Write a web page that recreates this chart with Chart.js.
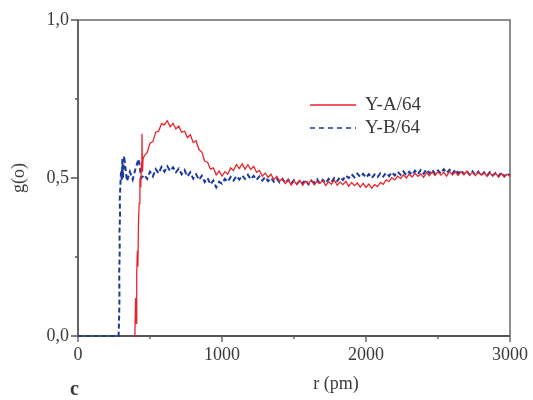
<!DOCTYPE html>
<html>
<head>
<meta charset="utf-8">
<script src="https://cdn.jsdelivr.net/npm/chart.js@4.4.1/dist/chart.umd.min.js"></script>
<style>
html,body{margin:0;padding:0;background:#fff;}
#wrap{width:533px;height:400px;position:relative;}
</style>
</head>
<body>
<div id="wrap"><canvas id="c" width="533" height="400"></canvas></div>
<script>
// ---- data ----
const seriesNames = ["Y-A/64", "Y-B/64"];
const xTickLabels = ["0", "1000", "2000", "3000"];
const xTickValues = [0, 1000, 2000, 3000];
const xMinorValues = [500, 1500, 2500];
const yTickLabels = ["0,0", "0,5", "1,0"];
const yTickValues = [0, 0.5, 1.0];
const yMinorValues = [0.25, 0.75];

// Y-A/64 onset (explicit r, g); g = 0 below r = 385 (lies on the axis)
const onsetA_r = [385, 395, 400, 404, 408, 412, 416, 420, 425, 430, 436, 440, 444, 448, 452];
const onsetA_g = [0, 0, 0.12, 0.04, 0.20, 0.27, 0.22, 0.36, 0.42, 0.50, 0.47, 0.55, 0.64, 0.52, 0.56];
// Y-A/64 main part, r = 460, 480, ... (20 pm grid)
const mainA_start = 460, mainA_step = 20;
const mainA_g = [
0.57,0.58,0.61,0.615,0.645,0.648,0.672,0.668,0.681,0.662,0.673,0.655,0.664,0.645,0.648,0.628,0.637,0.612,0.618,0.59,
0.582,0.553,0.55,0.528,0.532,0.51,0.522,0.506,0.52,0.512,0.532,0.524,0.543,0.53,0.545,0.528,0.542,0.527,0.537,0.518,
0.524,0.506,0.516,0.502,0.512,0.495,0.505,0.49,0.498,0.482,0.494,0.478,0.491,0.48,0.493,0.477,0.49,0.481,0.494,0.478,
0.489,0.483,0.492,0.476,0.488,0.48,0.493,0.477,0.487,0.479,0.49,0.474,0.486,0.476,0.484,0.471,0.483,0.47,0.481,0.468,
0.479,0.473,0.486,0.48,0.494,0.489,0.501,0.494,0.506,0.498,0.51,0.5,0.512,0.503,0.515,0.505,0.513,0.502,0.517,0.507,
0.519,0.508,0.52,0.509,0.518,0.506,0.521,0.51,0.519,0.508,0.52,0.511,0.522,0.51,0.518,0.507,0.519,0.509,0.517,0.505,
0.516,0.507,0.515,0.503,0.514,0.504,0.512,0.506];

// Y-B/64 onset
const onsetB_r = [0, 282, 285, 288, 286, 290, 288, 292, 290, 294, 296, 300, 304, 308, 312];
const onsetB_g = [0, 0, 0.05, 0.12, 0.20, 0.27, 0.33, 0.38, 0.43, 0.47, 0.50, 0.52, 0.49, 0.56, 0.50];
// Y-B/64 main part, r = 320, 340, ...
const mainB_start = 320, mainB_step = 20;
const mainB_g = [
0.57,0.49,0.52,0.495,0.53,0.56,0.5,0.51,0.497,0.52,0.505,0.528,0.515,0.535,0.52,0.537,0.522,0.534,0.518,0.53,
0.512,0.525,0.505,0.518,0.498,0.512,0.494,0.507,0.487,0.5,0.48,0.492,0.47,0.488,0.482,0.497,0.488,0.503,0.492,0.506,
0.495,0.508,0.497,0.51,0.496,0.507,0.494,0.505,0.492,0.503,0.49,0.5,0.488,0.498,0.486,0.497,0.484,0.495,0.482,0.493,
0.481,0.492,0.483,0.494,0.48,0.491,0.485,0.496,0.482,0.494,0.484,0.497,0.487,0.5,0.49,0.503,0.494,0.508,0.5,0.512,
0.502,0.514,0.503,0.513,0.501,0.512,0.5,0.511,0.503,0.515,0.505,0.516,0.506,0.518,0.508,0.52,0.51,0.521,0.509,0.52,
0.51,0.523,0.512,0.525,0.514,0.527,0.515,0.526,0.513,0.524,0.514,0.528,0.516,0.526,0.513,0.527,0.515,0.524,0.512,0.522,
0.51,0.521,0.509,0.52,0.508,0.518,0.507,0.519,0.508,0.516,0.506,0.517,0.505,0.515,0.508];

function buildPoints(onR, onG, start, step, g) {
  const pts = onR.map((r, i) => ({x: r, y: onG[i]}));
  g.forEach((v, i) => pts.push({x: start + step * i, y: v}));
  return pts;
}
const ptsA = buildPoints(onsetA_r, onsetA_g, mainA_start, mainA_step, mainA_g);
const ptsB = buildPoints(onsetB_r, onsetB_g, mainB_start, mainB_step, mainB_g);

const RED = '#e8252b';
const BLUE = '#1c3a9e';
const FONT = '"Liberation Serif", "Times New Roman", serif';
const TXT = '#3a3a3a';

const decor = {
  id: 'decor',
  beforeDatasetsDraw(chart) {
    const ctx = chart.ctx;
    const xs = chart.scales.x, ys = chart.scales.y;
    const L = xs.left, R = xs.right, T = ys.top, B = ys.bottom;
    ctx.save();
    ctx.strokeStyle = '#6a6a6a';
    ctx.lineWidth = 1.5;
    ctx.beginPath();
    ctx.moveTo(L, T); ctx.lineTo(R, T); ctx.lineTo(R, B);
    ctx.stroke();
    ctx.strokeStyle = '#555';
    ctx.lineWidth = 1.8;
    ctx.beginPath();
    ctx.moveTo(L, T); ctx.lineTo(L, B); ctx.lineTo(R, B);
    ctx.stroke();
    ctx.lineWidth = 1.3;
    ctx.beginPath();
    yTickValues.forEach(v => { const y = ys.getPixelForValue(v); ctx.moveTo(L - 7, y); ctx.lineTo(L, y); });
    yMinorValues.forEach(v => { const y = ys.getPixelForValue(v); ctx.moveTo(L - 3, y); ctx.lineTo(L, y); });
    xTickValues.forEach(v => { const x = xs.getPixelForValue(v); ctx.moveTo(x, B); ctx.lineTo(x, B + 6); });
    xMinorValues.forEach(v => { const x = xs.getPixelForValue(v); ctx.moveTo(x, B); ctx.lineTo(x, B + 3); });
    ctx.stroke();
    ctx.restore();
  },
  afterDraw(chart) {
    const ctx = chart.ctx;
    const xs = chart.scales.x, ys = chart.scales.y;
    const L = xs.left, B = ys.bottom;
    ctx.save();
    ctx.fillStyle = TXT;
    ctx.font = '18px ' + FONT;
    ctx.textAlign = 'right'; ctx.textBaseline = 'middle';
    yTickValues.forEach((v, i) => ctx.fillText(yTickLabels[i], L - 9, ys.getPixelForValue(v)));
    ctx.textAlign = 'center'; ctx.textBaseline = 'top';
    xTickValues.forEach((v, i) => ctx.fillText(xTickLabels[i], xs.getPixelForValue(v), B + 10));
    ctx.textBaseline = 'middle';
    ctx.fillText('r (pm)', 336, 384);
    ctx.save();
    ctx.translate(19, 178);
    ctx.rotate(-Math.PI / 2);
    ctx.fillText('g(o)', 0, 0);
    ctx.restore();
    ctx.font = 'bold 20px ' + FONT;
    ctx.textAlign = 'left';
    ctx.fillText('c', 70, 390);
    // legend
    ctx.font = '19px ' + FONT;
    ctx.textAlign = 'left'; ctx.textBaseline = 'middle';
    ctx.strokeStyle = RED; ctx.lineWidth = 1.4; ctx.setLineDash([]);
    ctx.beginPath(); ctx.moveTo(310, 105); ctx.lineTo(356, 105); ctx.stroke();
    ctx.fillStyle = TXT;
    ctx.fillText(seriesNames[0], 365, 105);
    ctx.strokeStyle = BLUE; ctx.lineWidth = 1.6; ctx.setLineDash([5, 4]);
    ctx.beginPath(); ctx.moveTo(310, 128); ctx.lineTo(356, 128); ctx.stroke();
    ctx.setLineDash([]);
    ctx.fillText(seriesNames[1], 365, 128);
    ctx.restore();
  }
};

new Chart(document.getElementById('c'), {
  type: 'line',
  data: {
    datasets: [
      {label: seriesNames[0], data: ptsA, borderColor: RED, borderWidth: 1.3, pointRadius: 0, tension: 0, fill: false, clip: false},
      {label: seriesNames[1], data: ptsB, borderColor: BLUE, borderWidth: 2, borderDash: [5, 3], pointRadius: 0, tension: 0, fill: false, clip: false}
    ]
  },
  options: {
    responsive: false,
    animation: false,
    events: [],
    layout: {padding: {top: 20, right: 23, left: 0, bottom: 0}},
    plugins: {legend: {display: false}, tooltip: {enabled: false}},
    scales: {
      x: {type: 'linear', min: 0, max: 3000, ticks: {display: false}, grid: {display: false}, border: {display: false},
          afterFit(s) { s.height = 64; }},
      y: {type: 'linear', min: 0, max: 1, ticks: {display: false}, grid: {display: false}, border: {display: false},
          afterFit(s) { s.width = 78; }}
    }
  },
  plugins: [decor]
});
</script>
</body>
</html>
